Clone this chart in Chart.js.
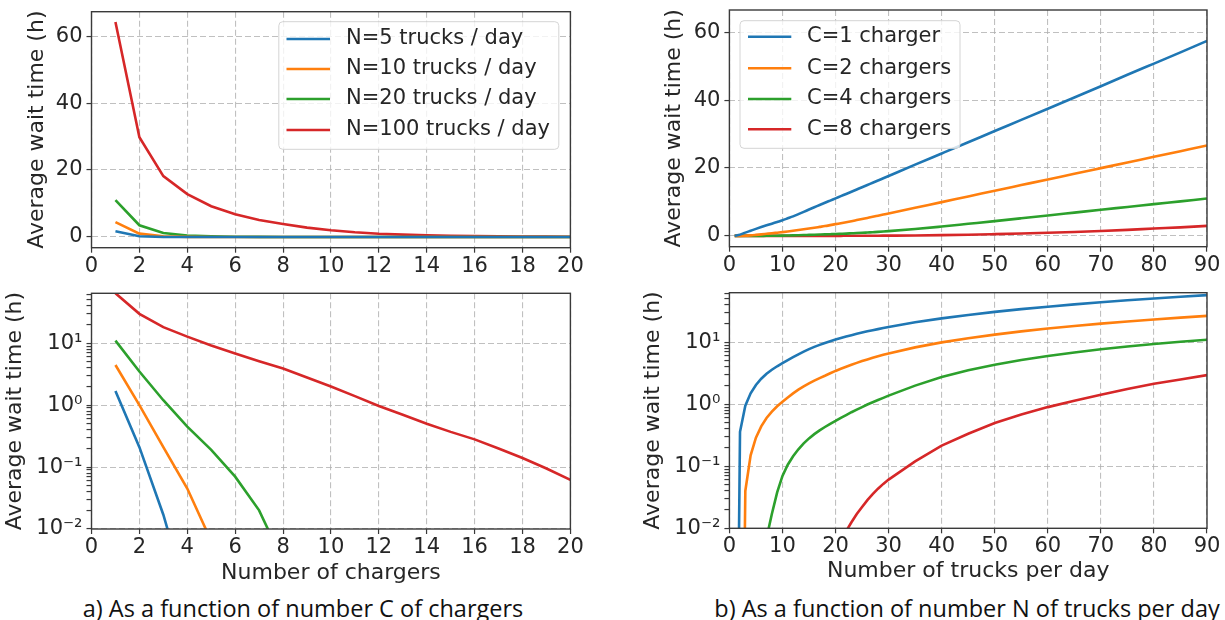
<!DOCTYPE html>
<html>
<head>
<meta charset="utf-8">
<script src="https://cdn.jsdelivr.net/npm/chart.js@4.4.0/dist/chart.umd.min.js"></script>
<style>
  body { margin: 0; background: #fff; }
  .wrap { position: relative; width: 1225px; height: 620px; overflow: hidden; }
  .wrap canvas { position: absolute; left: 0; top: 0; }
  .caption { position: absolute; top: 596px; width: 600px; font-family: "Open Sans", sans-serif; font-size: 23.5px;
             line-height: 24px; color: #111; text-align: center; white-space: nowrap; }
</style>
</head>
<body>
<div class="wrap">
  <div class="caption" style="left:3px">a) As a function of number C of chargers</div>
  <div class="caption" style="left:667px">b) As a function of number N of trucks per day</div>
  <canvas id="waitByChargers" width="1225" height="620"></canvas>
  <canvas id="waitByChargersLog" width="1225" height="620"></canvas>
  <canvas id="waitByTrucks" width="1225" height="620"></canvas>
  <canvas id="waitByTrucksLog" width="1225" height="620"></canvas>
</div>
<script>
// a) wait time vs number of chargers C, one line per truck count N
var chargers = [1, 2, 3, 4, 5, 6, 7, 8, 9, 10, 11, 12, 13, 14, 15, 16, 17, 18, 19, 20];
var waitN5 = [1.69, 0.21, 0.017, 0.0008, 0, 0, 0, 0, 0, 0, 0, 0, 0, 0, 0, 0, 0, 0, 0, 0];
var waitN10 = [4.45, 1.0, 0.21, 0.045, 0.0064, 0.0008, 0, 0, 0, 0, 0, 0, 0, 0, 0, 0, 0, 0, 0, 0];
var waitN20 = [11.0, 3.5, 1.2, 0.45, 0.19, 0.07, 0.02, 0.003, 0.0004, 0, 0, 0, 0, 0, 0, 0, 0, 0, 0, 0];
var waitN100 = [64.2, 29.8, 18.2, 12.8, 9.2, 6.8, 5.1, 3.9, 2.8, 2.0, 1.4, 0.97, 0.70, 0.50, 0.37, 0.28, 0.20, 0.14, 0.095, 0.062];
var truckLabels = ['N=5 trucks / day', 'N=10 trucks / day', 'N=20 trucks / day', 'N=100 trucks / day'];

// b) wait time vs number of trucks per day N, one line per charger count C
var trucks = [1, 2, 3, 4, 5, 6, 7, 8, 9, 10, 11, 12, 13, 14, 15, 16, 17, 18, 19, 20,
              21, 22, 23, 24, 25, 26, 27, 28, 29, 30, 35, 40, 45, 50, 55, 60, 65, 70, 75, 80, 85, 90, 95, 100];
var waitC1 = [0, 0.36, 0.95, 1.5, 2.05, 2.58, 3.1, 3.6, 4.1, 4.6,
              5.17, 5.75, 6.4, 7.07, 7.75, 8.42, 9.08, 9.75, 10.4, 11.05,
              11.7, 12.35, 13.0, 13.67, 14.35, 15.0, 15.65, 16.3, 16.98, 17.65,
              21.0, 24.3, 27.6, 30.9, 34.2, 37.5, 40.8, 44.1, 47.5, 50.8, 54.1, 57.5, 60.8, 64.2];
var waitC2 = [0, 0, 0.04, 0.15, 0.29, 0.44, 0.6, 0.76, 0.93, 1.1,
              1.29, 1.5, 1.72, 1.94, 2.17, 2.4, 2.64, 2.88, 3.16, 3.45,
              3.73, 4.02, 4.33, 4.65, 4.97, 5.29, 5.61, 5.94, 6.27, 6.6,
              8.27, 9.95, 11.62, 13.3, 14.97, 16.64, 18.3, 19.97, 21.64, 23.3, 24.97, 26.63, 28.2, 29.8];
var waitC4 = [0, 0, 0, 0, 0.0004, 0.002, 0.007, 0.017, 0.038, 0.07,
              0.106, 0.145, 0.188, 0.234, 0.282, 0.33, 0.38, 0.43, 0.485, 0.54,
              0.605, 0.67, 0.745, 0.82, 0.9, 0.99, 1.08, 1.17, 1.27, 1.38,
              2.0, 2.75, 3.55, 4.35, 5.17, 6.0, 6.85, 7.7, 8.52, 9.35, 10.17, 11.0, 11.82, 12.65];
var waitC8 = [0, 0, 0, 0, 0, 0, 0, 0, 0, 0,
              0, 0, 0, 0, 0, 0, 0, 0.001, 0.002, 0.004,
              0.006, 0.009, 0.0125, 0.017, 0.022, 0.0285, 0.0355, 0.0435, 0.052, 0.061,
              0.12, 0.215, 0.335, 0.5, 0.684, 0.9, 1.14, 1.43, 1.76, 2.15, 2.51, 2.95, 3.39, 3.8];
var chargerLabels = ['C=1 charger', 'C=2 chargers', 'C=4 chargers', 'C=8 chargers'];

// axis ticks
var chargerTicks = [0, 2, 4, 6, 8, 10, 12, 14, 16, 18, 20];
var truckTicks = [0, 10, 20, 30, 40, 50, 60, 70, 80, 90];
var hourTicks = [0, 20, 40, 60];
var decades = [0.01, 0.1, 1, 10];

var colors = ['#1f77b4', '#ff7f0e', '#2ca02c', '#d62728'];
var font = 'DejaVu Sans';
var ink = '#262626';
var gridColor = 'rgba(176,176,176,0.8)';

function isDecade(v) {
    var l = Math.log10(v);
    return Math.abs(l - Math.round(l)) < 1e-6;
}

var sup = {'-': '\u207b', '0': '\u2070', '1': '\u00b9', '2': '\u00b2', '3': '\u00b3'};
function powerLabel(v) {
    var e = String(Math.round(Math.log10(v)));
    return '10' + e.split('').map(function (ch) { return sup[ch]; }).join('');
}

// decade ticks plus the 2..9 minor ticks in between
function logTicks(max) {
    var out = [];
    decades.forEach(function (d) {
        for (var m = 1; m <= 9; m++) {
            var v = +(m * d).toPrecision(3);
            if (v <= max) out.push(v);
        }
    });
    return out;
}

function points(xs, ys, log) {
    return xs.map(function (x, i) {
        var y = ys[i];
        if (log && y <= 0) y = 1e-9; // non-positive values drop off a log axis
        return {x: x, y: y};
    });
}

var frame = {
    id: 'frame',
    afterDatasetsDraw: function (chart) {
        var a = chart.chartArea, c = chart.ctx;
        c.save();
        c.strokeStyle = '#3a3a3a';
        c.lineWidth = 1.4;
        c.strokeRect(a.left, a.top, a.right - a.left, a.bottom - a.top);
        c.restore();
    }
};

function boxLegend(o) {
    return {
        id: 'boxLegend',
        afterDatasetsDraw: function (chart) {
            if (!o) return;
            var c = chart.ctx, b = o.box;
            c.save();
            c.beginPath();
            c.roundRect(b[0], b[1], b[2] - b[0], b[3] - b[1], 4);
            c.fillStyle = 'rgba(255,255,255,0.8)';
            c.fill();
            c.strokeStyle = '#d4d4d4';
            c.lineWidth = 1;
            c.stroke();
            c.font = '21px "' + font + '"';
            c.textBaseline = 'middle';
            chart.data.datasets.forEach(function (ds, i) {
                var y = o.rows[i];
                c.strokeStyle = ds.borderColor;
                c.lineWidth = 2.6;
                c.beginPath();
                c.moveTo(o.handle[0], y);
                c.lineTo(o.handle[1], y);
                c.stroke();
                c.fillStyle = ink;
                c.fillText(ds.label, o.textX, y);
            });
            c.restore();
        }
    };
}

function makePanel(id, p) {
    var a = p.area; // left, top, right, bottom of the plot box
    var log = p.yType === 'logarithmic';
    var padLeft = p.yTitleX - 11;
    var axisBottom = p.xTitleY ? p.xTitleY + 11 : a[3] + 40;
    var tickFont = {family: font, size: 21, lineHeight: 1};
    var titleFont = {family: font, size: 22, lineHeight: 1};

    var datasets = p.series.map(function (ys, i) {
        return {
            label: p.labels[i],
            data: points(p.xs, ys, log),
            borderColor: colors[i],
            borderWidth: 2.6,
            pointRadius: 0,
            tension: 0,
            cubicInterpolationMode: p.smooth ? 'monotone' : 'default',
            fill: false
        };
    });

    return new Chart(document.getElementById(id), {
        type: 'line',
        data: {datasets: datasets},
        options: {
            responsive: false,
            animation: false,
            events: [],
            layout: {padding: {left: padLeft, top: a[1], right: 1225 - a[2], bottom: 620 - axisBottom}},
            scales: {
                x: {
                    type: 'linear',
                    min: p.xMin,
                    max: p.xMax,
                    afterBuildTicks: function (s) {
                        s.ticks = p.xTicks.map(function (v) { return {value: v}; });
                    },
                    afterFit: function (s) {
                        s.height = axisBottom - a[3];
                        s.paddingLeft = 0;
                        s.paddingRight = 0;
                    },
                    ticks: {
                        autoSkip: false, maxRotation: 0, padding: 3, color: ink, font: tickFont,
                        callback: function (v) { return String(v); }
                    },
                    grid: {color: gridColor, lineWidth: 1.1, tickLength: 5, tickColor: '#3a3a3a', tickWidth: 1.2},
                    border: {display: false, dash: [6, 3]},
                    title: {display: !!p.xTitle, text: p.xTitle || '', color: ink, font: titleFont, padding: 0}
                },
                y: {
                    type: p.yType,
                    min: p.yMin,
                    max: p.yMax,
                    afterBuildTicks: function (s) {
                        s.ticks = p.yTicks.map(function (v) { return {value: v}; });
                    },
                    afterFit: function (s) {
                        s.width = a[0] - padLeft;
                        s.paddingTop = 0;
                        s.paddingBottom = 0;
                    },
                    ticks: {
                        autoSkip: false, padding: 4, color: ink, font: tickFont,
                        callback: function (v) {
                            if (!log) return String(v);
                            return isDecade(v) ? powerLabel(v) : '';
                        }
                    },
                    grid: {
                        color: function (ctx) {
                            if (log && ctx.tick && !isDecade(ctx.tick.value)) return 'rgba(0,0,0,0)';
                            return gridColor;
                        },
                        lineWidth: 1.1, tickLength: 5, tickColor: '#3a3a3a', tickWidth: 1.2
                    },
                    border: {display: false, dash: [6, 3]},
                    title: {display: true, text: 'Average wait time (h)', color: ink, font: titleFont, padding: 0}
                }
            },
            plugins: {legend: {display: false}, tooltip: {enabled: false}}
        },
        plugins: [frame, boxLegend(p.legend)]
    });
}

var byChargers = [waitN5, waitN10, waitN20, waitN100];
var byTrucks = [waitC1, waitC2, waitC4, waitC8];

makePanel('waitByChargers', {
    area: [91.5, 11.7, 570.4, 247.7], yTitleX: 37.3,
    xs: chargers, series: byChargers, labels: truckLabels,
    xMin: 0, xMax: 20, xTicks: chargerTicks,
    yType: 'linear', yMin: -3.2, yMax: 67.3, yTicks: hourTicks,
    legend: {box: [278.8, 21.7, 558.8, 149.3], rows: [39, 69, 99, 130], handle: [286.5, 330], textX: 346}
});

makePanel('waitByChargersLog', {
    area: [91.5, 293.3, 570.4, 529], yTitleX: 15.4, xTitleY: 573.3, xTitle: 'Number of chargers',
    xs: chargers, series: byChargers, labels: truckLabels,
    xMin: 0, xMax: 20, xTicks: chargerTicks,
    yType: 'logarithmic', yMin: 0.01, yMax: 64, yTicks: logTicks(64)
});

makePanel('waitByTrucks', {
    area: [729.4, 10, 1207, 246.7], yTitleX: 673.9, smooth: true,
    xs: trucks, series: byTrucks, labels: chargerLabels,
    xMin: 0, xMax: 90, xTicks: truckTicks,
    yType: 'linear', yMin: -3.2, yMax: 66.6, yTicks: hourTicks,
    legend: {box: [740, 20.7, 960, 148.3], rows: [36.7, 68.3, 99, 129.3], handle: [748, 791.3], textX: 807}
});

makePanel('waitByTrucksLog', {
    area: [729.4, 292.7, 1207, 528.3], yTitleX: 653, xTitleY: 571.7, xTitle: 'Number of trucks per day',
    xs: trucks, series: byTrucks, labels: chargerLabels,
    xMin: 0, xMax: 90, xTicks: truckTicks,
    yType: 'logarithmic', yMin: 0.01, yMax: 63, yTicks: logTicks(63)
});
</script>
</body>
</html>
